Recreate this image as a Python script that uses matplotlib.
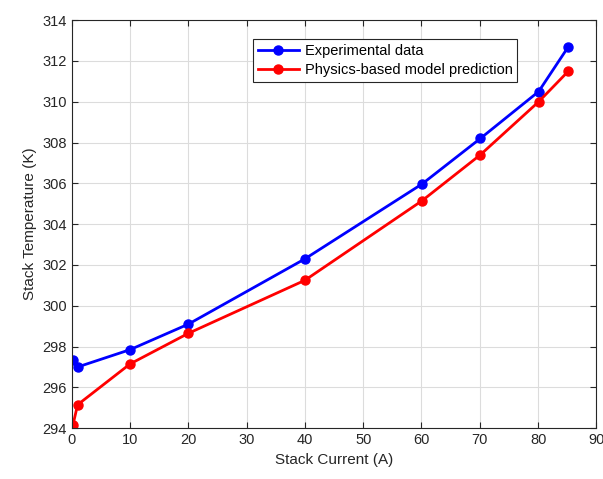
import matplotlib
matplotlib.use('Agg')
import matplotlib.pyplot as plt

# Stack current (A) and temperatures (K)
current = [0.2, 1.0, 10.0, 20.0, 40.0, 60.1, 70.1, 80.1, 85.2]
temp_exp = [297.35, 297.0, 297.85, 299.1, 302.3, 305.97, 308.2, 310.5, 312.7]
temp_model = [294.15, 295.15, 297.15, 298.65, 301.25, 305.15, 307.4, 310.0, 311.5]

xticks = list(range(0, 91, 10))
yticks = list(range(294, 315, 2))

plt.rcParams['font.family'] = ['Liberation Sans', 'DejaVu Sans']
plt.rcParams['font.size'] = 10.5

fig = plt.figure(figsize=(6.03, 4.79), dpi=100)
ax = fig.add_axes([0.119, 0.106, 0.870, 0.852])

ax.plot(current, temp_exp, '-o', color='#0000ff', lw=2, ms=6.5, label='Experimental data')
ax.plot(current, temp_model, '-o', color='#ff0000', lw=2, ms=6.5, label='Physics-based model prediction')

ax.set_xlim(0, 90)
ax.set_ylim(294, 314)
ax.set_xticks(xticks)
ax.set_yticks(yticks)
ax.grid(True, color='#dcdcdc', lw=0.8)
ax.set_axisbelow(True)
ax.tick_params(direction='in', length=4, colors='#262626', labelcolor='#262626',
               top=True, right=True, labelsize=10.5)
for s in ax.spines.values():
    s.set_color('#262626')
    s.set_linewidth(0.8)

ax.set_xlabel('Stack Current (A)', color='#262626', fontsize=11)
ax.set_ylabel('Stack Temperature (K)', color='#262626', fontsize=11)

leg = ax.legend(loc='upper left', bbox_to_anchor=(0.345, 0.953), borderaxespad=0,
                fancybox=False, edgecolor='#262626', framealpha=1, fontsize=10.5,
                handlelength=2.8, borderpad=0.35, labelspacing=0.3, handletextpad=0.4)
leg.get_frame().set_linewidth(0.8)

fig.savefig('out.png', dpi=100)
